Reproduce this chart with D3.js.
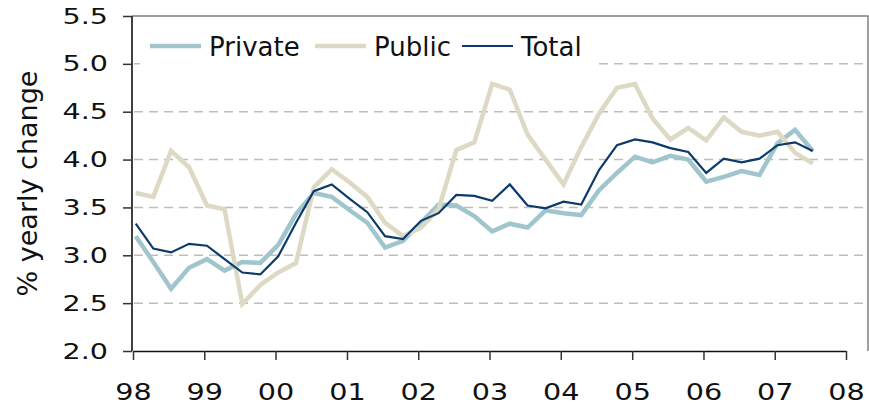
<!DOCTYPE html>
<html>
<head>
<meta charset="utf-8">
<script src="https://cdn.jsdelivr.net/npm/d3@7"></script>
<style>
  body { margin: 0; background: #fff; }
  svg { display: block; font-family: "DejaVu Sans", Verdana, sans-serif; }
</style>
</head>
<body>
<div id="chart"></div>
<script>
// Quarterly observations, 1998Q1 .. 2007Q3
const quarters = [
  '1998Q1','1998Q2','1998Q3','1998Q4','1999Q1','1999Q2','1999Q3','1999Q4',
  '2000Q1','2000Q2','2000Q3','2000Q4','2001Q1','2001Q2','2001Q3','2001Q4',
  '2002Q1','2002Q2','2002Q3','2002Q4','2003Q1','2003Q2','2003Q3','2003Q4',
  '2004Q1','2004Q2','2004Q3','2004Q4','2005Q1','2005Q2','2005Q3','2005Q4',
  '2006Q1','2006Q2','2006Q3','2006Q4','2007Q1','2007Q2','2007Q3'
];

const privateVals = [
  3.20, 2.93, 2.65, 2.87, 2.96, 2.84, 2.93, 2.92,
  3.11, 3.43, 3.65, 3.61, 3.47, 3.34, 3.08, 3.15,
  3.34, 3.53, 3.52, 3.41, 3.25, 3.33, 3.29, 3.47,
  3.44, 3.42, 3.68, 3.86, 4.03, 3.97, 4.04, 4.00,
  3.77, 3.82, 3.88, 3.84, 4.17, 4.31, 4.09
];

const publicVals = [
  3.65, 3.61, 4.09, 3.92, 3.52, 3.48, 2.49, 2.69,
  2.82, 2.92, 3.71, 3.90, 3.76, 3.61, 3.34, 3.20,
  3.29, 3.48, 4.10, 4.18, 4.79, 4.73, 4.26, 4.00,
  3.74, 4.13, 4.48, 4.75, 4.79, 4.43, 4.21, 4.33,
  4.20, 4.44, 4.29, 4.25, 4.29, 4.07, 3.96
];

const totalVals = [
  3.33, 3.07, 3.03, 3.12, 3.10, 2.96, 2.82, 2.80,
  2.99, 3.34, 3.67, 3.74, 3.59, 3.45, 3.20, 3.17,
  3.36, 3.44, 3.63, 3.62, 3.57, 3.74, 3.52, 3.49,
  3.56, 3.53, 3.89, 4.15, 4.21, 4.18, 4.12, 4.08,
  3.86, 4.01, 3.97, 4.01, 4.15, 4.18, 4.09
];

const yTicks = [2.0, 2.5, 3.0, 3.5, 4.0, 4.5, 5.0, 5.5];

const SERIES = [
  { name: 'Private', values: privateVals, color: '#a0c5cd', width: 4.5 },
  { name: 'Public',  values: publicVals,  color: '#ddd9c4', width: 4.5 },
  { name: 'Total',   values: totalVals,   color: '#0b3b6c', width: 2.2 },
];

const W = 869, H = 405;
const M = { top: 16, right: 1, bottom: 54, left: 132 };

// quarter label -> date (mid first month of quarter)
function qDate(q) {
  const yr = +q.slice(0, 4), qi = +q.slice(5) - 1;
  return new Date(yr, qi * 3, 15);
}

const svg = d3.select('#chart').append('svg').attr('width', W).attr('height', H);

const x = d3.scaleTime()
  .domain([new Date(1998, 0, 1), new Date(2008, 0, 1)])
  .range([M.left + 1, 846]);
const y = d3.scaleLinear()
  .domain([2.0, 5.5])
  .range([H - M.bottom, M.top]);

// gridlines
svg.append('g')
  .selectAll('line')
  .data(yTicks.filter(t => t > 2.0 && t < 5.5))
  .join('line')
  .attr('x1', M.left + 2).attr('x2', W - M.right - 2)
  .attr('y1', d => y(d)).attr('y2', d => y(d))
  .attr('stroke', '#bdbdbd').attr('stroke-width', 1.5)
  .attr('stroke-dasharray', '9,6');

// frame top / right
svg.append('path')
  .attr('d', `M${M.left},${M.top}H${W - M.right}V${H - M.bottom}`)
  .attr('fill', 'none').attr('stroke', '#7f7f7f').attr('stroke-width', 1.5);

// lines
const line = d3.line()
  .x((d, i) => x(qDate(quarters[i])))
  .y(d => y(d));

SERIES.forEach(s => {
  svg.append('path')
    .datum(s.values)
    .attr('d', line)
    .attr('fill', 'none')
    .attr('stroke', s.color)
    .attr('stroke-width', s.width)
    .attr('stroke-linejoin', 'miter');
});

// axes
const yAxis = svg.append('g')
  .attr('transform', `translate(${M.left},0)`)
  .call(d3.axisLeft(y).tickValues(yTicks).tickFormat(d3.format('.1f')).tickSize(9).tickSizeOuter(0));
const xAxis = svg.append('g')
  .attr('transform', `translate(0,${H - M.bottom})`)
  .call(d3.axisBottom(x).ticks(d3.timeYear.every(1)).tickFormat(d3.timeFormat('%y')).tickSize(9).tickSizeOuter(0));

[yAxis, xAxis].forEach(a => {
  a.select('.domain').attr('stroke', '#111').attr('stroke-width', 1.6);
  a.selectAll('.tick line').attr('stroke', '#333').attr('stroke-width', 1.5);
  a.selectAll('text').attr('fill', '#111')
    .style('font-family', '"DejaVu Sans", Verdana, sans-serif');
});
yAxis.select('.domain').attr('d', `M0,${M.top}V${H - M.bottom}`);

// tick labels are drawn a little wider than the font's natural width
const SY = 1.3, SX = 1.22;
yAxis.selectAll('text').style('font-size', '22px')
  .attr('x', -24 / SY).attr('transform', `scale(${SY},1)`);
xAxis.selectAll('text').style('font-size', '23.5px')
  .attr('y', 49).attr('dy', null).attr('transform', `scale(${SX},1)`);

// axis title
svg.append('text')
  .attr('transform', `translate(37,${(M.top + H - M.bottom) / 2}) rotate(-90)`)
  .attr('text-anchor', 'middle')
  .attr('fill', '#111')
  .style('font-size', '27px')
  .text('% yearly change');

// legend
const leg = svg.append('g');
leg.append('rect')
  .attr('x', 140).attr('y', 28).attr('width', 457).attr('height', 38)
  .attr('fill', '#fff');
const legX = [150, 315, 462];
SERIES.forEach((s, i) => {
  const g = leg.append('g').attr('transform', `translate(${legX[i]},46)`);
  g.append('line').attr('x1', 0).attr('x2', 51).attr('stroke', s.color)
    .attr('stroke-width', s.width);
  g.append('text').attr('x', 59).attr('y', 9.5)
    .attr('fill', '#111').style('font-size', '26px').text(s.name);
});
</script>
</body>
</html>
